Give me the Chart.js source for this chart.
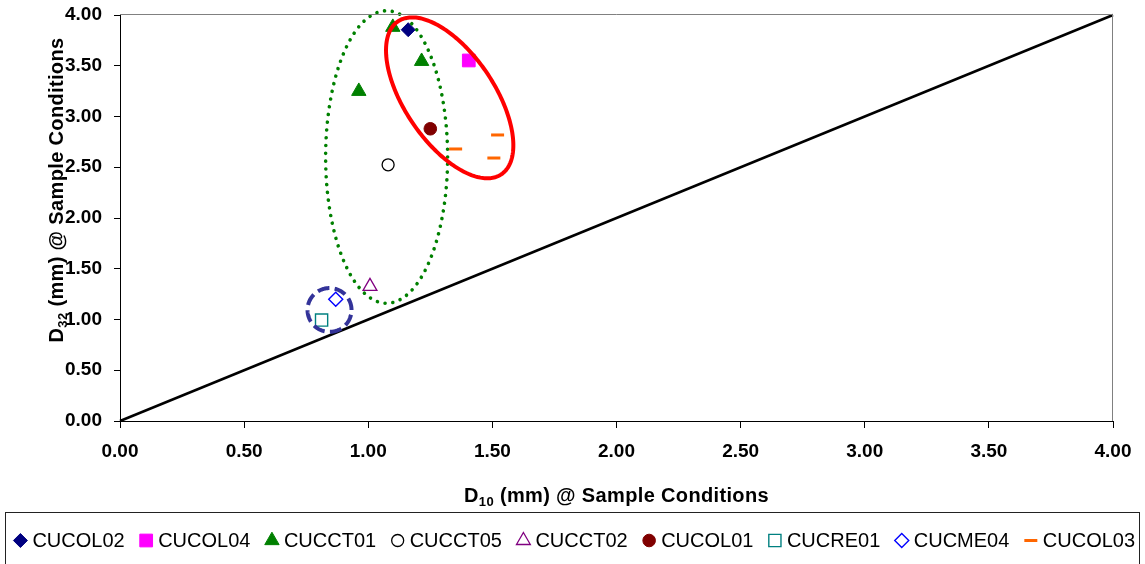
<!DOCTYPE html>
<html><head><meta charset="utf-8">
<script src="https://cdn.jsdelivr.net/npm/chart.js@4.4.1/dist/chart.umd.min.js"></script>
<style>html,body{margin:0;padding:0;background:#fff}#wrap{width:1145px;height:564px;position:relative}</style>
</head><body><div id="wrap"><canvas id="c" width="1145" height="564"></canvas></div>
<script>
// ---- data ----
const seriesNames = ['CUCOL02','CUCOL04','CUCCT01','CUCCT05','CUCCT02','CUCOL01','CUCRE01','CUCME04','CUCOL03'];
const CUCOL02_d10 = [1.161];               const CUCOL02_d32 = [3.855];
const CUCOL04_d10 = [1.405];               const CUCOL04_d32 = [3.552];
const CUCCT01_d10 = [1.099, 1.215, 0.962]; const CUCCT01_d32 = [3.880, 3.544, 3.249];
const CUCCT05_d10 = [1.080];               const CUCCT05_d32 = [2.524];
const CUCCT02_d10 = [1.007];               const CUCCT02_d32 = [1.327];
const CUCOL01_d10 = [1.250];               const CUCOL01_d32 = [2.879];
const CUCRE01_d10 = [0.812];               const CUCRE01_d32 = [0.995];
const CUCME04_d10 = [0.869];               const CUCME04_d32 = [1.200];
const CUCOL03_d10 = [1.352, 1.521, 1.506]; const CUCOL03_d32 = [2.680, 2.818, 2.591];
const refLineX = [0, 4];
const refLineY = [0, 4];
const tickValues = [0, 0.5, 1, 1.5, 2, 2.5, 3, 3.5, 4];
const tickLabels = ['0.00','0.50','1.00','1.50','2.00','2.50','3.00','3.50','4.00'];
const xTitle = ['D', '10', ' (mm) @ Sample Conditions'];
const yTitle = ['D', '32', ' (mm) @ Sample Conditions'];
// group outlines, in data units: centre + two conjugate half-axis vectors
const groupCOL = {cx: 1.328, cy: 3.184, ux: 0.2084, uy: -0.7530, vx: -0.1494, vy: -0.2474};
const groupCCT = {cx: 1.074, cy: 2.601, ux: 0.2457, uy: 0, vx: 0, vy: 1.441};
const groupLow = {cx: 0.844, cy: 1.094, ux: 0.0886, uy: 0, vx: 0, vy: 0.2157};

const FONT = "'Liberation Sans', Arial, Helvetica, sans-serif";
const pts = (xs, ys) => xs.map((x, i) => ({x: x, y: ys[i]}));

function series(name, xs, ys, style, radius, bg, border, bw) {
  return {label: name, data: pts(xs, ys), pointStyle: style, pointRadius: radius,
    pointHoverRadius: radius, backgroundColor: bg, borderColor: border,
    pointBackgroundColor: bg, pointBorderColor: border, pointBorderWidth: bw,
    showLine: false, clip: false, order: 1, inLegend: true};
}

const datasets = [
  series(seriesNames[0], CUCOL02_d10, CUCOL02_d32, 'rectRot', 7, '#000080', '#000080', 1),
  series(seriesNames[1], CUCOL04_d10, CUCOL04_d32, 'rect', 9, '#FF00FF', '#FF00FF', 1),
  series(seriesNames[2], CUCCT01_d10, CUCCT01_d32, 'triangle', 8.3, '#008000', '#008000', 1),
  series(seriesNames[3], CUCCT05_d10, CUCCT05_d32, 'circle', 6, 'rgba(0,0,0,0)', '#000000', 1.3),
  series(seriesNames[4], CUCCT02_d10, CUCCT02_d32, 'triangle', 8, 'rgba(0,0,0,0)', '#800080', 1.3),
  series(seriesNames[5], CUCOL01_d10, CUCOL01_d32, 'circle', 6.3, '#800000', '#800000', 1),
  series(seriesNames[6], CUCRE01_d10, CUCRE01_d32, 'rect', 8.6, 'rgba(0,0,0,0)', '#008080', 1.4),
  series(seriesNames[7], CUCME04_d10, CUCME04_d32, 'rectRot', 7, 'rgba(0,0,0,0)', '#0000FF', 1.4),
  series(seriesNames[8], CUCOL03_d10, CUCOL03_d32, 'line', 6.5, '#FF6600', '#FF6600', 3),
  {label: 'y = x', data: pts(refLineX, refLineY), showLine: true, borderColor: '#000000',
   borderWidth: 2.5, pointRadius: 0, pointHoverRadius: 0, clip: false, order: 10, inLegend: false}
];

function drawEllipse(chart, e, color, width, dash, cap) {
  const ctx = chart.ctx, xs = chart.scales.x, ys = chart.scales.y;
  ctx.save();
  ctx.beginPath();
  const N = 240;
  for (let i = 0; i <= N; i++) {
    const t = i / N * Math.PI * 2;
    const px = xs.getPixelForValue(e.cx + e.ux * Math.cos(t) + e.vx * Math.sin(t));
    const py = ys.getPixelForValue(e.cy + e.uy * Math.cos(t) + e.vy * Math.sin(t));
    if (i === 0) ctx.moveTo(px, py); else ctx.lineTo(px, py);
  }
  ctx.strokeStyle = color; ctx.lineWidth = width; ctx.setLineDash(dash); ctx.lineCap = cap;
  ctx.stroke();
  ctx.restore();
}

function drawSubText(ctx, parts, size, subSize, subDrop, spacing) {
  ctx.letterSpacing = spacing + 'px';
  ctx.font = 'bold ' + size + 'px ' + FONT;
  const w0 = ctx.measureText(parts[0]).width;
  const w2 = ctx.measureText(parts[2]).width;
  ctx.font = 'bold ' + subSize + 'px ' + FONT;
  const w1 = ctx.measureText(parts[1]).width;
  const total = w0 + w1 + w2;
  let x = -total / 2;
  ctx.textAlign = 'left'; ctx.textBaseline = 'alphabetic'; ctx.fillStyle = '#000';
  ctx.font = 'bold ' + size + 'px ' + FONT; ctx.fillText(parts[0], x, 0); x += w0;
  ctx.font = 'bold ' + subSize + 'px ' + FONT; ctx.fillText(parts[1], x, subDrop); x += w1;
  ctx.font = 'bold ' + size + 'px ' + FONT; ctx.fillText(parts[2], x, 0);
}

function drawMarker(ctx, ds, x, y) {
  ctx.save();
  ctx.fillStyle = ds.pointBackgroundColor; ctx.strokeStyle = ds.pointBorderColor;
  ctx.lineWidth = ds.pointBorderWidth;
  const opts = {pointStyle: ds.pointStyle, radius: ds.pointRadius, rotation: 0, borderWidth: ds.pointBorderWidth};
  if (Chart.helpers && Chart.helpers.drawPoint) {
    Chart.helpers.drawPoint(ctx, opts, x, y);
  }
  ctx.restore();
}

const decorPlugin = {
  id: 'decor',
  afterDatasetsDraw(chart) {
    drawEllipse(chart, groupCCT, '#008000', 3.6, [0.01, 7.8], 'round');
    drawEllipse(chart, groupCOL, '#FF0000', 4, [], 'butt');
    drawEllipse(chart, groupLow, '#333399', 4, [12, 5.3], 'butt');
  },
  afterDraw(chart) {
    const ctx = chart.ctx, a = chart.chartArea;
    ctx.save();
    ctx.strokeStyle = '#808080'; ctx.lineWidth = 1;
    ctx.beginPath();
    ctx.moveTo(a.left, Math.round(a.top) - 0.5); ctx.lineTo(Math.round(a.right) - 0.5, Math.round(a.top) - 0.5);
    ctx.lineTo(Math.round(a.right) - 0.5, a.bottom);
    ctx.stroke();
    ctx.restore();
    // axis titles
    ctx.save();
    ctx.translate((a.left + a.right) / 2, 502);
    drawSubText(ctx, xTitle, 20, 13, 4, 0.35);
    ctx.restore();
    ctx.save();
    ctx.translate(63, 190);
    ctx.rotate(-Math.PI / 2);
    drawSubText(ctx, yTitle, 20, 13, 4, 0.35);
    ctx.restore();
    // legend
    ctx.save();
    ctx.strokeStyle = '#222'; ctx.lineWidth = 1;
    ctx.strokeRect(5.5, 512.5, 1134, 70);
    ctx.font = '20px ' + FONT; ctx.letterSpacing = '0px';
    const items = chart.data.datasets.filter(d => d.inLegend);
    const widths = items.map(d => ctx.measureText(d.label).width);
    const gap = 33.5, toText = 12;
    const groupW = 6.5 + toText + widths.reduce((s, w) => s + w, 0) + gap * (items.length - 1);
    let textX = 574.5 - groupW / 2 + 6.5 + toText;
    ctx.fillStyle = '#000'; ctx.textAlign = 'left'; ctx.textBaseline = 'alphabetic';
    items.forEach((d, i) => {
      drawMarker(ctx, d, textX - toText, 540.5);
      ctx.fillStyle = '#000';
      ctx.fillText(d.label, textX, 547);
      textX += widths[i] + gap;
    });
    ctx.restore();
  }
};

const axisCommon = (extra) => Object.assign({
  type: 'linear', min: 0, max: 4,
  afterBuildTicks: (s) => { s.ticks = tickValues.map(v => ({value: v})); },
  ticks: {callback: (v, i) => tickLabels[i], color: '#000', autoSkip: false, maxRotation: 0,
          font: {family: FONT, size: 19, weight: 'bold'}},
  grid: {drawOnChartArea: false, drawTicks: true, color: '#000', tickColor: '#000', lineWidth: 1},
  border: {display: true, color: '#000', width: 1},
  title: {display: false}
}, extra);

const xAxis = axisCommon({position: 'bottom'});
xAxis.grid = Object.assign({}, xAxis.grid, {tickLength: 7});
xAxis.ticks = Object.assign({}, xAxis.ticks, {padding: 12});
xAxis.afterFit = (s) => { s.height = 143; s.paddingLeft = 0; s.paddingRight = 0; };
const yAxis = axisCommon({position: 'left'});
yAxis.grid = Object.assign({}, yAxis.grid, {tickLength: 6});
yAxis.ticks = Object.assign({}, yAxis.ticks, {padding: 12});
yAxis.afterFit = (s) => { s.width = 120; s.paddingTop = 0; s.paddingBottom = 0; };

new Chart(document.getElementById('c'), {
  type: 'scatter',
  data: {datasets: datasets},
  options: {
    responsive: false, animation: false, events: [],
    layout: {padding: {top: 15, right: 32, left: 0, bottom: 0}},
    scales: {x: xAxis, y: yAxis},
    plugins: {legend: {display: false}, tooltip: {enabled: false}, title: {display: false}}
  },
  plugins: [decorPlugin]
});
</script></body></html>
